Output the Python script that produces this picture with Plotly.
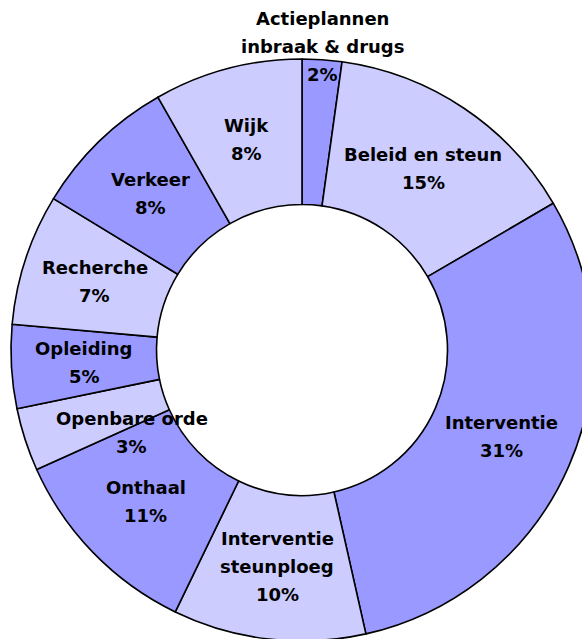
import numpy as np
import plotly.graph_objects as go

# ---- data ----
categories = [
    "Actieplannen\ninbraak & drugs",
    "Beleid en steun",
    "Interventie",
    "Interventie\nsteunploeg",
    "Onthaal",
    "Openbare orde",
    "Opleiding",
    "Recherche",
    "Verkeer",
    "Wijk",
]
# slice shares as drawn (measured from the slice angles)
shares = [2.2, 14.4, 29.9, 10.7, 11.1, 3.5, 4.65, 7.3, 8.05, 8.25]
# percentages as printed on the chart
pct_labels = ["2%", "15%", "31%", "10%", "11%", "3%", "5%", "7%", "8%", "8%"]

# ---- styling ----
DARK = "#9999FF"
LIGHT = "#CCCCFF"
colors = [DARK if i % 2 == 0 else LIGHT for i in range(len(categories))]
FONT = dict(family="DejaVu Sans", size=18, color="black", weight="bold")
LINE_GAP = 28
LABEL_R = 0.749
label_adjust = {  # (radius fraction, angle shift in degrees)
    "Actieplannen\ninbraak & drugs": (1.044, 0.0),
    "Openbare orde": (0.65, -7.9),
}

fig = go.Figure(
    go.Pie(
        labels=[c.replace("\n", " ") for c in categories],
        values=shares,
        sort=False,
        direction="clockwise",
        rotation=0,
        hole=0.5,
        marker=dict(colors=colors, line=dict(color="black", width=1.6)),
        textinfo="none",
        hoverinfo="label+value",
        showlegend=False,
    )
)

tot = float(np.sum(shares))
cum = np.concatenate([[0.0], np.cumsum(shares)]) / tot * 360.0
mids = (cum[:-1] + cum[1:]) / 2.0

annotations = []
for cat, pct, mid in zip(categories, pct_labels, mids):
    rf, dth = label_adjust.get(cat, (LABEL_R, 0.0))
    th = np.deg2rad(mid + dth)
    x = 0.5 + 0.5 * rf * np.sin(th)
    y = 0.5 + 0.5 * rf * np.cos(th)
    lines = cat.split("\n") + [pct]
    n = len(lines)
    for i, ln in enumerate(lines):
        annotations.append(
            dict(
                x=x, y=y, xref="paper", yref="paper",
                text=ln, showarrow=False,
                xanchor="center", yanchor="middle",
                yshift=((n - 1) / 2.0 - i) * LINE_GAP,
                font=FONT,
            )
        )

fig.update_layout(
    width=604,
    height=700,
    margin=dict(l=11, r=11, t=59, b=59, pad=0),
    paper_bgcolor="white",
    plot_bgcolor="white",
    annotations=annotations,
)

fig.write_html(
    "out.html",
    config={"displayModeBar": False},
    post_script=(
        "document.body.style.margin='0';"
        "document.body.style.overflow='hidden';"
        "document.documentElement.style.overflow='hidden';"
    ),
)
